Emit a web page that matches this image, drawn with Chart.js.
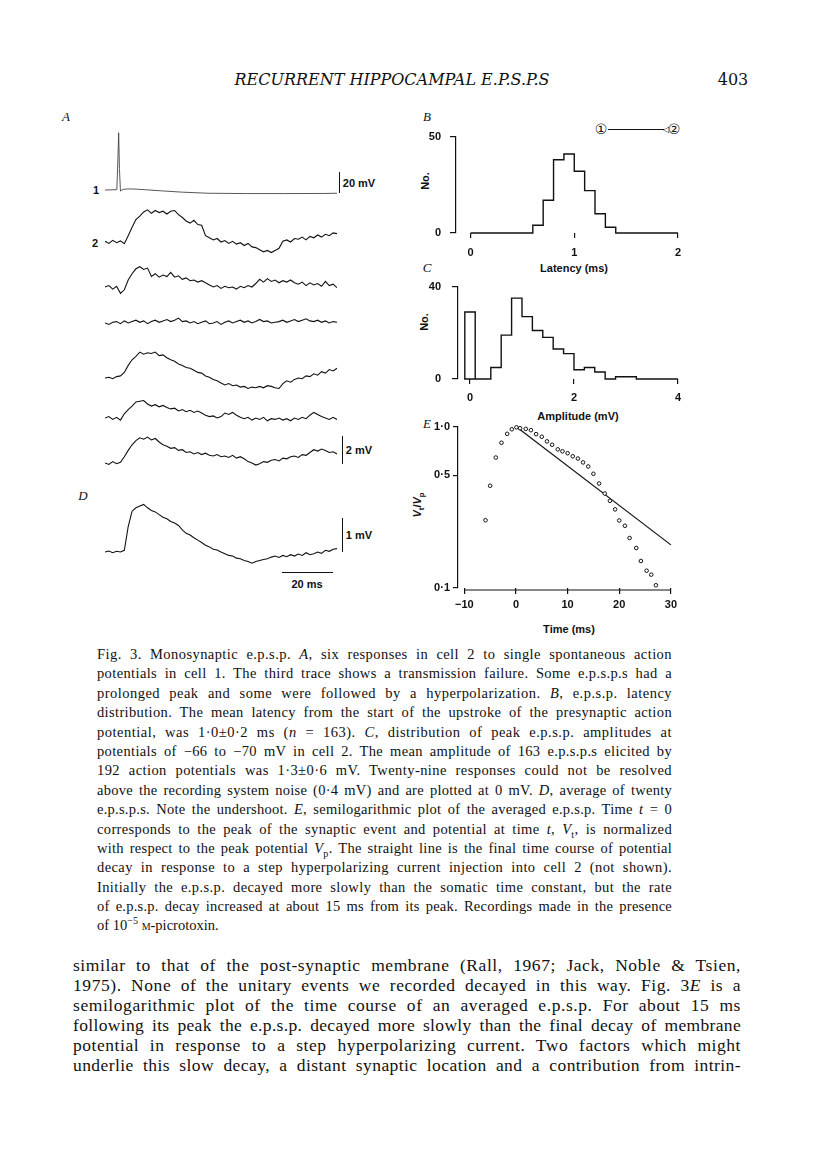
<!DOCTYPE html>
<html>
<head>
<meta charset="utf-8">
<title>Recurrent hippocampal e.p.s.p.s - Fig. 3</title>
<script src="https://cdn.jsdelivr.net/npm/chart.js"></script>
<style>
  body { margin: 0; background: #fff; }
  #page { position: relative; width: 816px; height: 1155px; overflow: hidden; color: #111; }
  canvas { position: absolute; }
  .t { position: absolute; white-space: nowrap; transform: translate(-50%, -50%); }
  .fig { font-family: "Liberation Sans", Arial, sans-serif; font-weight: bold; font-size: 11px; line-height: 12px; }
  .ser { font-family: "DejaVu Serif", serif; }
  .lab { font-family: "Liberation Serif", serif; font-style: italic; font-size: 13px; }
  .rot { transform: translate(-50%, -50%) rotate(-90deg); }
  .bar { position: absolute; background: #111; }
  .cap { position: absolute; left: 97px; top: 645px; width: 575px; font-family: "Liberation Serif", serif; font-size: 14.5px; }
  .cap div { height: 19.4px; line-height: 19.4px; text-align: justify; text-align-last: justify; white-space: nowrap; }
  .txt { position: absolute; left: 73px; top: 955px; width: 668px; font-family: "Liberation Serif", serif; font-size: 17.5px; }
  .txt div { height: 20px; line-height: 20px; text-align: justify; text-align-last: justify; white-space: nowrap; }
  .cap div.last { text-align-last: left; }
  sub, sup { font-size: 70%; line-height: 0; }
</style>
</head>
<body>
<div id="page">
  <div class="t ser" style="left:392px; top:79px; font-size:16px; font-style:italic;">RECURRENT HIPPOCAMPAL E.P.S.P.S</div>
  <div class="t ser" style="left:733px; top:79px; font-size:16px;">403</div>

  <div class="t lab" style="left:66px; top:117px;">A</div>
  <div class="t lab" style="left:427px; top:117px;">B</div>
  <div class="t lab" style="left:427px; top:268px;">C</div>
  <div class="t lab" style="left:427px; top:424px;">E</div>
  <div class="t lab" style="left:83px; top:496px;">D</div>

  <div class="t fig" style="left:96px; top:190px;">1</div>
  <div class="t fig" style="left:95px; top:243px;">2</div>

  <!-- scale bars -->
  <div class="bar" style="left:339px; top:172px; width:1.2px; height:21px;"></div>
  <div class="t fig" style="left:359px; top:183px;">20 mV</div>
  <div class="bar" style="left:342px; top:436px; width:1.2px; height:28px;"></div>
  <div class="t fig" style="left:359px; top:450px;">2 mV</div>
  <div class="bar" style="left:342px; top:518px; width:1.2px; height:34px;"></div>
  <div class="t fig" style="left:359px; top:535px;">1 mV</div>
  <div class="bar" style="left:282px; top:572px; width:51px; height:1.2px;"></div>
  <div class="t fig" style="left:307px; top:584px;">20 ms</div>

  <!-- axis titles -->
  <div class="t fig rot" style="left:425px; top:181px;">No.</div>
  <div class="t fig" style="left:574px; top:268px;">Latency (ms)</div>
  <div class="t fig rot" style="left:424px; top:322px;">No.</div>
  <div class="t fig" style="left:578px; top:416px;">Amplitude (mV)</div>
  <div class="t fig rot" style="left:417px; top:505px;"><i>V</i><sub>t</sub>/<i>V</i><sub>p</sub></div>
  <div class="t fig" style="left:569px; top:629px;">Time (ms)</div>

  <!-- cell 1 -> cell 2 schematic -->
  <div class="t" style="left:601px; top:129px; font-family:'DejaVu Sans','Noto Sans CJK SC'; font-size:14px;">①</div>
  <div class="bar" style="left:608px; top:128.5px; width:56px; height:1.2px;"></div>
  <div class="t" style="left:666px; top:129px; font-family:'DejaVu Sans'; font-size:8px;">◁</div>
  <div class="t" style="left:674px; top:129px; font-family:'DejaVu Sans','Noto Sans CJK SC'; font-size:14px;">②</div>

  <canvas id="tr1"></canvas>
  <canvas id="tr2"></canvas>
  <canvas id="tr3"></canvas>
  <canvas id="tr4"></canvas>
  <canvas id="tr5"></canvas>
  <canvas id="tr6"></canvas>
  <canvas id="tr7"></canvas>
  <canvas id="trD"></canvas>
  <canvas id="histB"></canvas>
  <canvas id="histC"></canvas>
  <canvas id="plotE"></canvas>

  <div class="cap">
    <div>Fig. 3. Monosynaptic e.p.s.p. <i>A</i>, six responses in cell 2 to single spontaneous action</div>
    <div>potentials in cell 1. The third trace shows a transmission failure. Some e.p.s.p.s had a</div>
    <div>prolonged peak and some were followed by a hyperpolarization. <i>B</i>, e.p.s.p. latency</div>
    <div>distribution. The mean latency from the start of the upstroke of the presynaptic action</div>
    <div>potential, was 1·0±0·2 ms (<i>n</i> = 163). <i>C</i>, distribution of peak e.p.s.p. amplitudes at</div>
    <div>potentials of −66 to −70 mV in cell 2. The mean amplitude of 163 e.p.s.p.s elicited by</div>
    <div>192 action potentials was 1·3±0·6 mV. Twenty-nine responses could not be resolved</div>
    <div>above the recording system noise (0·4 mV) and are plotted at 0 mV. <i>D</i>, average of twenty</div>
    <div>e.p.s.p.s. Note the undershoot. <i>E</i>, semilogarithmic plot of the averaged e.p.s.p. Time <i>t</i> = 0</div>
    <div>corresponds to the peak of the synaptic event and potential at time <i>t</i>, <i>V</i><sub>t</sub>, is normalized</div>
    <div>with respect to the peak potential <i>V</i><sub>p</sub>. The straight line is the final time course of potential</div>
    <div>decay in response to a step hyperpolarizing current injection into cell 2 (not shown).</div>
    <div>Initially the e.p.s.p. decayed more slowly than the somatic time constant, but the rate</div>
    <div>of e.p.s.p. decay increased at about 15 ms from its peak. Recordings made in the presence</div>
    <div class="last">of 10<sup>−5</sup> <span style="font-variant:small-caps;">m</span>-picrotoxin.</div>
  </div>

  <div class="txt">
    <div>similar to that of the post-synaptic membrane (Rall, 1967; Jack, Noble &amp; Tsien,</div>
    <div>1975). None of the unitary events we recorded decayed in this way. Fig. 3<i>E</i> is a</div>
    <div>semilogarithmic plot of the time course of an averaged e.p.s.p. For about 15 ms</div>
    <div>following its peak the e.p.s.p. decayed more slowly than the final decay of membrane</div>
    <div>potential in response to a step hyperpolarizing current. Two factors which might</div>
    <div>underlie this slow decay, a distant synaptic location and a contribution from intrin-</div>
  </div>
</div>

<script>
    // ---- data ----
    // A, trace 1: presynaptic action potential (mV from rest)
    const spikeTime = [0, 4.6, 5.0, 5.3, 5.6, 6.0, 7, 9, 12, 16, 22, 30, 40, 55, 70, 85, 90];
    const spikeV = [0, 0.3, 28, 53, 20, -1, 0.6, 1.0, 0.8, 0.2, -0.8, -2.0, -3.0, -3.3, -3.3, -3.2, -3.0];

    // sample times (ms) for the e.p.s.p. traces
    const traceTime = [0, 1.5, 3, 4.5, 6, 7.5, 9, 10.5, 12, 13.5, 15, 16.5, 18, 19.5, 21, 22.5, 24, 25.5, 27, 28.5,
        30, 31.5, 33, 34.5, 36, 37.5, 39, 40.5, 42, 43.5, 45, 46.5, 48, 49.5, 51, 52.5, 54, 55.5, 57, 58.5,
        60, 61.5, 63, 64.5, 66, 67.5, 69, 70.5, 72, 73.5, 75, 76.5, 78, 79.5, 81, 82.5, 84, 85.5, 87, 88.5, 90];

    // A, traces 2-7 (mV, cell 2)
    const trace2 = [0.05, -0.1, 0.12, -0.05, 0.08, -0.12, 0.45, 1.05, 1.6, 1.85,
        2.15, 2.3, 2.05, 2.25, 2.1, 2.2, 2.0, 2.2, 2.25, 1.95,
        1.75, 1.5, 1.35, 1.55, 1.25, 1.2, 0.45, 0.3, 0.15, 0.25,
        0.0, 0.1, -0.1, 0.05, -0.15, -0.05, -0.25, -0.1, -0.35, -0.4,
        -0.55, -0.7, -0.6, -0.75, -0.6, -0.45, 0.05, 0.15, 0.0, 0.25,
        0.2, 0.35, 0.15, 0.4, 0.3, 0.5, 0.35, 0.55, 0.45, 0.65, 0.6];
    const trace3 = [0.0, 0.1, -0.15, 0.05, -0.45, -0.2, 0.5, 0.95, 1.3, 1.45,
        1.25, 1.35, 0.75, 0.95, 0.7, 0.85, 0.75, 1.05, 0.7, 0.8,
        0.55, 0.65, 0.45, 0.5, 0.35, 0.45, 0.3, 0.15, 0.0, 0.1,
        -0.1, 0.05, -0.05, 0.0, -0.15, 0.05, -0.05, 0.1, 0.0, 0.25,
        0.55, 0.35, 0.6, 0.4, 0.5, 0.3, 0.45, 0.35, 0.5, 0.3,
        0.2, 0.35, 0.1, 0.3, 0.15, 0.25, 0.05, 0.4, 0.1, 0.2, -0.05];
    const trace4 = [0.0, -0.1, 0.05, 0.1, -0.05, 0.15, 0.0, 0.1, 0.2, 0.05,
        0.15, -0.05, 0.1, 0.2, 0.05, 0.15, 0.25, 0.1, 0.2, 0.35,
        0.1, 0.15, 0.0, 0.1, -0.05, 0.05, 0.15, -0.05, 0.0, 0.1,
        -0.1, 0.05, 0.15, 0.0, 0.1, 0.2, 0.05, 0.15, 0.0, 0.1,
        0.25, 0.1, 0.15, 0.0, 0.05, 0.1, 0.2, 0.05, 0.15, 0.25,
        0.1, 0.2, 0.3, 0.15, 0.1, 0.2, 0.05, 0.15, 0.0, 0.1, 0.05];
    const trace5 = [0.0, 0.05, -0.05, 0.1, 0.15, 0.4, 0.9, 1.3, 1.55, 1.85,
        1.7, 1.8, 1.75, 1.85, 1.6, 1.65, 1.45, 1.3, 1.2, 1.0,
        0.9, 0.75, 0.7, 0.55, 0.4, 0.35, 0.15, 0.05, -0.1, -0.2,
        -0.35, -0.5, -0.4, -0.55, -0.5, -0.65, -0.6, -0.75, -0.65, -0.7,
        -0.6, -0.7, -0.55, -0.6, -0.7, -0.75, -0.4, -0.2, -0.3, -0.1,
        0.0, -0.05, 0.15, 0.1, 0.3, 0.2, 0.45, 0.35, 0.6, 0.5, 0.7];
    const trace6 = [0.0, 0.1, -0.1, 0.05, -0.15, 0.3, 0.6, 0.85, 1.15, 1.2,
        1.25, 1.0, 0.85, 0.95, 0.8, 0.9, 0.75, 0.65, 0.7, 0.5,
        0.6, 0.45, 0.55, 0.4, 0.5, 0.35, 0.2, 0.1, 0.15, 0.0,
        0.1, 0.35, 0.25, 0.4, 0.2, 0.05, -0.05, 0.05, -0.15, 0.0,
        -0.1, 0.05, -0.2, -0.05, -0.1, 0.0, -0.15, -0.05, -0.2, 0.0,
        -0.1, 0.05, -0.05, 0.2, 0.4, 0.25, 0.1, 0.0, -0.1, 0.05, -0.1];
    const trace7 = [0.0, -0.1, 0.1, -0.05, 0.05, 0.45, 0.9, 1.3, 1.6, 1.8,
        1.7, 1.85, 1.65, 1.75, 1.5, 1.3, 1.2, 1.05, 1.1, 0.9,
        0.95, 0.75, 0.8, 0.65, 0.75, 0.6, 0.7, 0.55, 0.5, 0.6,
        0.45, 0.5, 0.4, 0.55, 0.35, 0.45, 0.3, 0.1, 0.0, -0.15,
        -0.05, 0.1, 0.05, 0.2, 0.25, 0.15, 0.35, 0.3, 0.45, 0.5,
        0.4, 0.6, 0.55, 0.75, 0.95, 0.85, 1.0, 0.9, 0.75, 0.8, 0.65];
    // D, average of twenty e.p.s.p.s (mV)
    const traceD = [0.0, 0.03, -0.02, 0.02, 0.0, 0.05, 0.75, 1.2, 1.3, 1.35,
        1.4, 1.3, 1.22, 1.18, 1.1, 1.02, 0.98, 0.9, 0.85, 0.78,
        0.65, 0.55, 0.5, 0.42, 0.35, 0.28, 0.2, 0.15, 0.08, 0.06,
        0.0, -0.05, -0.1, -0.12, -0.18, -0.2, -0.25, -0.28, -0.33, -0.28,
        -0.25, -0.22, -0.2, -0.15, -0.12, -0.16, -0.1, -0.14, -0.08, -0.12,
        -0.06, -0.1, -0.02, -0.08, -0.05, 0.0, -0.04, 0.05, 0.02, 0.08, 0.1];

    // B, latency histogram (0.1 ms bins)
    const latencyBinStart = [0.6, 0.7, 0.8, 0.9, 1.0, 1.1, 1.2, 1.3];
    const latencyCount = [4, 17, 38, 41, 32, 22, 10, 3];
    // C, amplitude histogram (0.2 mV bins), failures plotted at 0 mV
    const failureCount = 29;
    const ampBinStart = [0.4, 0.6, 0.8, 1.0, 1.2, 1.4, 1.6, 1.8, 2.0, 2.2, 2.4, 2.6, 2.8, 3.0];
    const ampCount = [5, 19, 35, 27, 21, 18, 13, 11, 4, 5, 3, 0, 1, 1];
    // E, normalized e.p.s.p. Vt/Vp against time from peak
    const decayTime = [-5.9, -5.0, -3.9, -2.8, -1.7, -0.8, 0.1, 0.8, 1.9, 2.9, 3.9, 5.0, 6.0, 7.0, 8.1, 9.0, 10.0,
        11.0, 12.0, 13.0, 14.0, 15.0, 16.1, 17.2, 18.2, 19.2, 20.0, 21.1, 22.0, 23.3, 24.2, 25.3, 26.2, 27.1];
    const decayRatio = [0.263, 0.43, 0.643, 0.794, 0.902, 0.963, 0.99, 0.977, 0.968, 0.95, 0.898, 0.865, 0.81, 0.772,
        0.723, 0.703, 0.684, 0.655, 0.634, 0.6, 0.566, 0.51, 0.444, 0.385, 0.347, 0.307, 0.262, 0.243, 0.204,
        0.177, 0.147, 0.128, 0.121, 0.104];
    const fitTime = [0, 30];
    const fitRatio = [1.0, 0.185];

    // ---- text: spread each printed line over the measure like the original ----
    document.querySelectorAll('.cap div, .txt div').forEach(d => {
        if (d.classList.contains('last')) return;
        const target = d.parentElement.clientWidth;
        d.style.textAlignLast = 'left';
        const r = document.createRange();
        r.selectNodeContents(d);
        const natural = r.getBoundingClientRect().width;
        const chars = d.textContent.length;
        d.style.letterSpacing = (0.4 * (target - natural) / chars).toFixed(3) + 'px';
        d.style.textAlignLast = 'justify';
    });

    // ---- drawing ----
    const ink = '#111';
    Chart.defaults.font.family = '"Liberation Sans", Arial, sans-serif';
    Chart.defaults.font.size = 11;
    Chart.defaults.font.weight = 'bold';
    Chart.defaults.color = ink;

    function place(id, left, top, width, height) {
        const c = document.getElementById(id);
        c.width = width; c.height = height;
        c.style.left = left + 'px'; c.style.top = top + 'px';
        c.style.width = width + 'px'; c.style.height = height + 'px';
        return c.getContext('2d');
    }

    // a trace occupies x 105..337; baseline at baseY, gain in px per mV
    function traceChart(id, values, baseY, above, below, gain) {
        const ctx = place(id, 105, baseY - above, 232, above + below);
        return new Chart(ctx, {
            type: 'line',
            data: {
                labels: traceTime,
                datasets: [{ data: values, borderColor: ink, borderWidth: 1.1, pointRadius: 0, clip: false }]
            },
            options: {
                responsive: false, animation: false,
                plugins: { legend: { display: false }, tooltip: { enabled: false } },
                scales: {
                    x: { display: false },
                    y: { display: false, min: -below / gain, max: above / gain }
                }
            }
        });
    }

    const spikeCtx = place('tr1', 105, 190 - 62, 232, 74);
    new Chart(spikeCtx, {
        type: 'line',
        data: {
            datasets: [{
                data: spikeTime.map((t, i) => ({ x: t, y: spikeV[i] })),
                borderColor: '#444', borderWidth: 0.9, pointRadius: 0, clip: false
            }]
        },
        options: {
            responsive: false, animation: false,
            plugins: { legend: { display: false }, tooltip: { enabled: false } },
            scales: {
                x: { type: 'linear', display: false, min: 0, max: 90 },
                y: { display: false, min: -12 / 1.08, max: 62 / 1.08 }
            }
        }
    });

    traceChart('tr2', trace2, 242, 40, 20, 14);
    traceChart('tr3', trace3, 287, 30, 20, 14);
    traceChart('tr4', trace4, 323, 20, 20, 14);
    traceChart('tr5', trace5, 378, 35, 20, 14);
    traceChart('tr6', trace6, 418, 30, 15, 14);
    traceChart('tr7', trace7, 463, 35, 20, 14);
    traceChart('trD', traceD, 552, 55, 20, 34);

    // x axis line drawn a little below the plotting area (panel E)
    const xLine = {
        id: 'xLine',
        afterDraw(chart, args, opts) {
            if (!opts || opts.from === undefined) return;
            const sx = chart.scales.x, c = chart.ctx;
            const y = chart.chartArea.bottom + (opts.drop || 0);
            c.save();
            c.strokeStyle = ink; c.lineWidth = 1.2;
            c.beginPath();
            c.moveTo(sx.getPixelForValue(opts.from), y);
            c.lineTo(sx.getPixelForValue(opts.to), y);
            c.stroke();
            c.restore();
        }
    };

    // area = plotting rectangle on the page; m = room around it for ticks
    function axesChart(id, area, m, datasets, sx, sy, extra) {
        const w = area.r - area.l + m.l + m.r, h = area.b - area.t + m.t + m.b;
        const ctx = place(id, area.l - m.l, area.t - m.t, w, h);
        return new Chart(ctx, {
            type: 'line',
            data: { datasets: datasets },
            plugins: [xLine],
            options: {
                responsive: false, animation: false,
                layout: { padding: { left: 0, top: m.t, right: m.r, bottom: 0 } },
                plugins: { legend: { display: false }, tooltip: { enabled: false }, xLine: extra || {} },
                scales: {
                    x: Object.assign({
                        type: 'linear',
                        border: { display: false },
                        grid: { drawOnChartArea: false, drawTicks: true, tickLength: 5, color: ink, lineWidth: 1.2 },
                        afterFit: s => { s.height = m.b; }
                    }, sx),
                    y: Object.assign({
                        border: { display: true, color: ink, width: 1.2 },
                        grid: { drawOnChartArea: false, drawTicks: true, tickLength: 6, color: ink, lineWidth: 1.2 },
                        afterFit: s => { s.width = m.l; }
                    }, sy)
                }
            }
        });
    }

    function fixedTicks(list) {
        return s => { s.ticks = list.map(v => ({ value: v })); };
    }

    // B: outline histogram as a stepped line ('before' = along the level, then up/down)
    const latencyPts = [{ x: 0, y: 0 }];
    latencyBinStart.forEach((x, i) => latencyPts.push({ x: x, y: latencyCount[i] }));
    latencyPts.push({ x: 1.4, y: 0 }, { x: 2, y: 0 });

    axesChart('histB', { l: 456, t: 129, r: 679, b: 233 }, { l: 40, t: 8, r: 10, b: 30 },
        [{ data: latencyPts, stepped: 'before', borderColor: ink, borderWidth: 1.4, pointRadius: 0, clip: false }],
        { min: -0.141, max: 2, afterBuildTicks: fixedTicks([0, 1, 2]), ticks: { padding: 8 } },
        { min: 0, max: 50, afterBuildTicks: fixedTicks([0, 50]), ticks: { padding: 9 } });

    // C: failures bar at 0 mV, then the amplitude outline
    const ampPts = [{ x: 0.1, y: 0 }, { x: -0.1, y: 0 }, { x: -0.1, y: failureCount }, { x: 0.1, y: 0 }];
    ampBinStart.forEach((x, i) => ampPts.push({ x: x, y: ampCount[i] }));
    ampPts.push({ x: 3.2, y: 0 }, { x: 4, y: 0 });

    axesChart('histC', { l: 458, t: 277, r: 678, b: 379 }, { l: 40, t: 8, r: 10, b: 28 },
        [{ data: ampPts, stepped: 'before', borderColor: ink, borderWidth: 1.4, pointRadius: 0, clip: false }],
        { min: -0.231, max: 4, afterBuildTicks: fixedTicks([0, 2, 4]), ticks: { padding: 7 } },
        { min: 0, max: 40, afterBuildTicks: fixedTicks([0, 40]), ticks: { padding: 11 } });

    // E: semilogarithmic decay plot
    const dot = n => n.toFixed(1).replace('.', '\u00b7');
    axesChart('plotE', { l: 458, t: 425, r: 671, b: 588 }, { l: 42, t: 8, r: 10, b: 30 },
        [
            { data: decayTime.map((t, i) => ({ x: t, y: decayRatio[i] })), showLine: false,
              pointRadius: 1.8, pointBorderWidth: 1, pointBorderColor: ink, pointBackgroundColor: '#fff', clip: false },
            { data: fitTime.map((t, i) => ({ x: t, y: fitRatio[i] })), borderColor: ink, borderWidth: 1.2,
              pointRadius: 0, clip: false }
        ],
        { min: -11.22, max: 30, afterBuildTicks: fixedTicks([-10, 0, 10, 20, 30]),
          grid: { drawOnChartArea: false, drawTicks: true, tickLength: 6, color: ink, lineWidth: 1.2 },
          ticks: { padding: 4, callback: v => (v < 0 ? '\u2212' + Math.abs(v) : '' + v) } },
        { type: 'logarithmic', min: 0.1, max: 1, afterBuildTicks: fixedTicks([0.1, 0.5, 1]),
          grid: { drawOnChartArea: false, drawTicks: true, tickLength: 5, color: ink, lineWidth: 1.2 },
          ticks: { padding: 3, callback: v => dot(v) } },
        { from: -10, to: 30, drop: 2 });
</script>
</body>
</html>
